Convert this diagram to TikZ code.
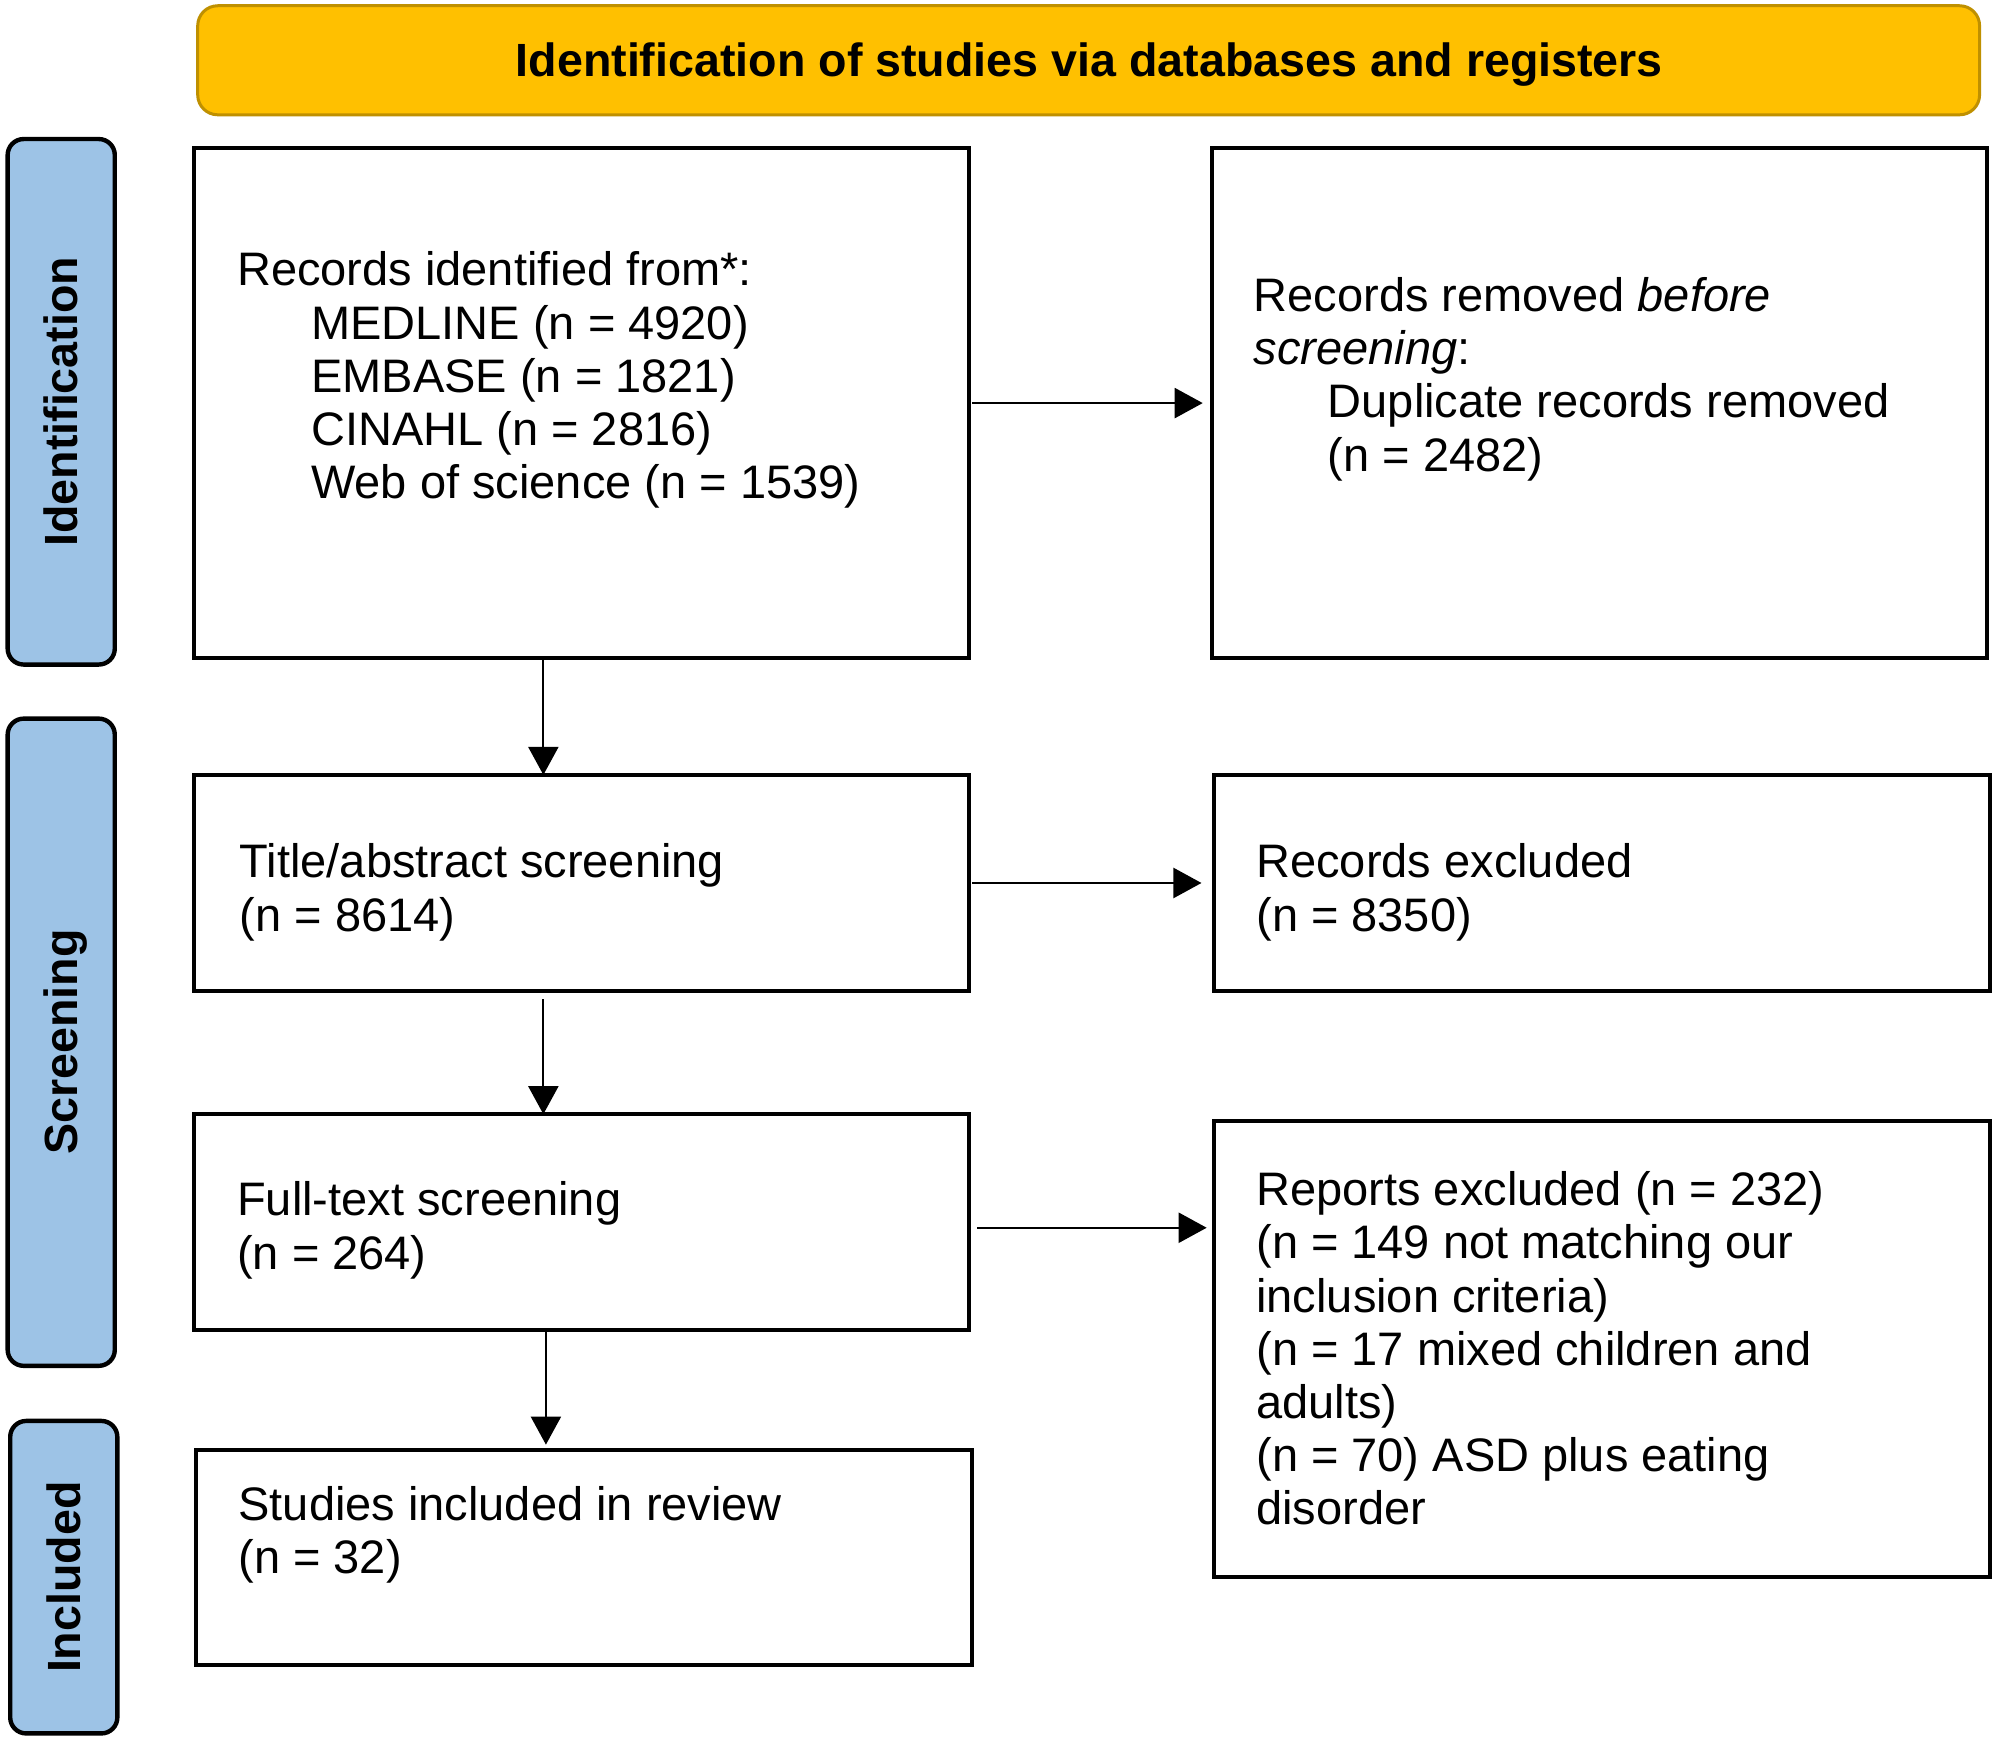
\documentclass[tikz,border=0pt]{standalone}
\usepackage{fontspec}
\setmainfont{Liberation Sans}
\usetikzlibrary{arrows.meta,fit}
\definecolor{hdrfill}{HTML}{FFC000}
\definecolor{hdrdraw}{HTML}{BF9000}
\definecolor{sidefill}{HTML}{9DC3E6}
\newcommand{\ind}{\hspace*{37pt}}
\begin{document}
\begin{tikzpicture}[x=0.63776pt,y=-0.63776pt,
  box/.style={draw=black, line width=2pt, rectangle, inner sep=0pt, outer sep=0pt},
  side/.style={draw=black, line width=2.2pt, fill=sidefill, rounded corners=8pt, inner sep=0pt, outer sep=0pt},
  hdr/.style={draw=hdrdraw, line width=1.5pt, fill=hdrfill, rounded corners=10pt, inner sep=0pt, outer sep=0pt},
  txt/.style={anchor=north west, inner sep=0pt, outer sep=0pt, align=left, font=\fontsize{23.5pt}{26.6pt}\selectfont},
  btxt/.style={inner sep=0pt, outer sep=0pt, font=\fontsize{23.3pt}{26.6pt}\selectfont\bfseries},
  arr/.style={-{Triangle[length=14pt,width=15pt]}, line width=1.1pt}
]
\useasboundingbox (0,0) rectangle (1568,1367.3);
\fill[white] (0,0) rectangle (1568,1367.3);

% header
\node[hdr, fit={(155,4.5) (1552,90)}] (hdr) {};
\node[btxt, anchor=base] (hdrtxt) at (854,60) {Identification of studies via databases and registers};

% side labels
\node[side, fit={(6,109) (90,521)}] (sid) {};
\node[btxt, rotate=90, anchor=base] (sidtxt) at (61,315) {Identification};
\node[side, fit={(6,563.4) (90,1070.8)}] (sscr) {};
\node[btxt, rotate=90, anchor=base] (sscrtxt) at (61,817) {Screening};
\node[side, fit={(8,1114) (92,1359)}] (sinc) {};
\node[btxt, rotate=90, anchor=base] (sinctxt) at (63,1236.5) {Included};

% boxes
\node[box, fit={(152,116) (760,516)}] (b1) {};
\node[box, fit={(950,116) (1558,516)}] (b2) {};
\node[box, fit={(152,607.5) (760,777)}] (b3) {};
\node[box, fit={(952,607.5) (1560,777)}] (b4) {};
\node[box, fit={(152,873.5) (760,1042.5)}] (b5) {};
\node[box, fit={(952,879) (1560,1236)}] (b6) {};
\node[box, fit={(154,1136.5) (762,1305.5)}] (b7) {};

% texts
\node[txt] (t1) at (186,197.5) {Records identified from*:\\
\ind MEDLINE (n = 4920)\\
\ind EMBASE (n = 1821)\\
\ind CINAHL (n = 2816)\\
\ind Web of science (n = 1539)};
\node[txt] (t2) at (983,217.5) {Records removed \textit{before}\\
\textit{screening}:\\
\ind Duplicate records removed\\
\ind (n = 2482)};
\node[txt] (t3) at (188,661.5) {Title/abstract screening\\(n = 8614)};
\node[txt] (t4) at (985,661.5) {Records excluded\\(n = 8350)};
\node[txt] (t5) at (186,926.5) {Full-text screening\\(n = 264)};
\node[txt] (t6) at (985,918.5) {Reports excluded (n = 232)\\
(n = 149 not matching our\\
inclusion criteria)\\
(n = 17 mixed children and\\
adults)\\
(n = 70) ASD plus eating\\
disorder};
\node[txt] (t7) at (187,1165.5) {Studies included in review\\(n = 32)};

% connectors
\coordinate (va) at (426,0);
\coordinate (vb) at (428,0);
\draw[arr, shorten >=4.5pt] ([xshift=1.5pt]b1.east) -- (b2.west);
\draw[arr, shorten >=6.4pt] ([xshift=1.5pt]b3.east) -- (b3.east -| b4.west);
\draw[arr, shorten >=3.8pt] ([xshift=4pt,yshift=-2.9pt]b5.east) -- ([yshift=-2.9pt]b5.east -| b6.west);
\draw[arr] (b1.south -| va) -- (b3.north -| va);
\draw[arr] ([yshift=-4pt]b3.south -| va) -- (b5.north -| va);
\draw[arr, shorten >=2.5pt] (b5.south -| vb) -- (b7.north -| vb);
\end{tikzpicture}
\end{document}
